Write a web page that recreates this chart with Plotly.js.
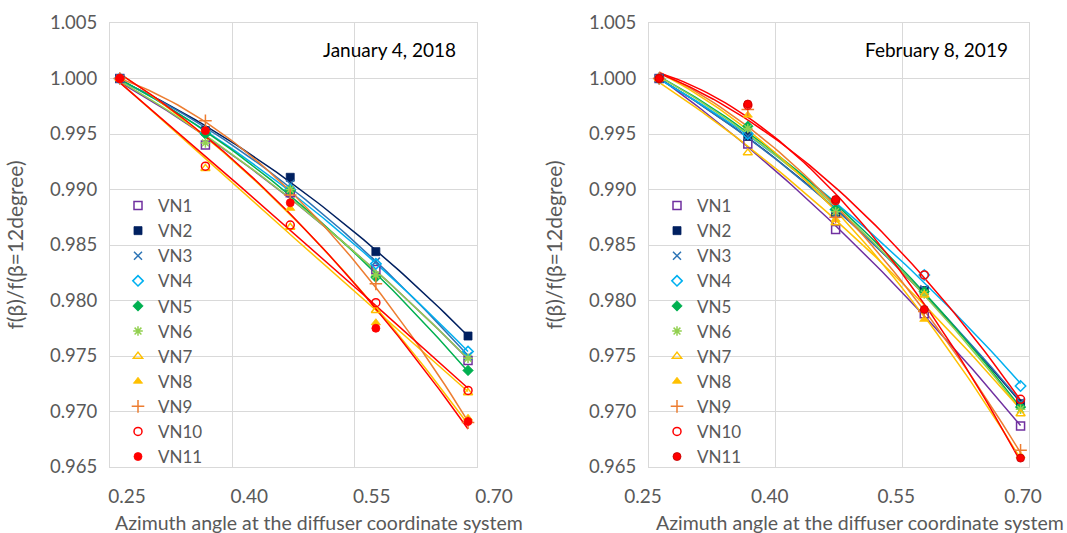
<!DOCTYPE html>
<html>
<head>
<meta charset="utf-8">
<script src="https://cdn.plot.ly/plotly-3.0.1.min.js"></script>
<style>html,body{margin:0;padding:0;background:#fff;}#chart{width:1067px;height:533px;}</style>
</head>
<body>
<div id="chart"></div>
<script>
// ---- data ----
const seriesNames = ['VN1','VN2','VN3','VN4','VN5','VN6','VN7','VN8','VN9','VN10','VN11'];
const xTickVals = [0.25, 0.40, 0.55, 0.70];
const xTickText = ['0.25', '0.40', '0.55', '0.70'];
const yTickVals = [0.965, 0.970, 0.975, 0.980, 0.985, 0.990, 0.995, 1.000, 1.005];
const yTickText = ['0.965','0.970','0.975','0.980','0.985','0.990','0.995','1.000','1.005'];
const panelTitles = ['January 4, 2018', 'February 8, 2019'];
const xTitle = 'Azimuth angle at the diffuser coordinate system';
const yTitle = 'f(β)/f(β=12degree)';

// Panel 1: January 4, 2018
const xJan = [0.262, 0.367, 0.471, 0.576, 0.689];
const janVN1  = [1.000, 0.9940, 0.9897, 0.9828, 0.9746];
const janVN2  = [1.000, 0.9953, 0.9911, 0.9844, 0.9768];
const janVN3  = [1.000, 0.9952, 0.9905, 0.9835, 0.9750];
const janVN4  = [1.000, 0.9951, 0.9900, 0.9833, 0.9754];
const janVN5  = [1.000, 0.9950, 0.9899, 0.9821, 0.9737];
const janVN6  = [1.000, 0.9942, 0.9900, 0.9823, 0.9748];
const janVN7  = [1.000, 0.9919, 0.9866, 0.9791, 0.9717];
const janVN8  = [1.000, 0.9954, 0.9883, 0.9780, 0.9694];
const janVN9  = [1.000, 0.9962, 0.9895, 0.9815, 0.9690];
const janVN10 = [1.000, 0.9921, 0.9868, 0.9798, 0.9719];
const janVN11 = [1.000, 0.9953, 0.9888, 0.9775, 0.9691];

// Panel 2: February 8, 2019
const xFeb = [0.262, 0.367, 0.471, 0.576, 0.690];
const febVN1  = [1.000, 0.9941, 0.9864, 0.9788, 0.9687];
const febVN2  = [1.000, 0.9948, 0.9879, 0.9809, 0.9707];
const febVN3  = [1.000, 0.9948, 0.9878, 0.9810, 0.9708];
const febVN4  = [1.000, 0.9950, 0.9882, 0.9823, 0.9723];
const febVN5  = [1.000, 0.9957, 0.9882, 0.9808, 0.9704];
const febVN6  = [1.000, 0.9955, 0.9880, 0.9806, 0.9702];
const febVN7  = [1.000, 0.9933, 0.9870, 0.9805, 0.9698];
const febVN8  = [1.000, 0.9967, 0.9873, 0.9783, 0.9660];
const febVN9  = [1.000, 0.9972, 0.9875, 0.9790, 0.9665];
const febVN10 = [1.000, 0.9976, 0.9890, 0.9823, 0.9711];
const febVN11 = [1.000, 0.9977, 0.9891, 0.9792, 0.9658];

const janData = [janVN1,janVN2,janVN3,janVN4,janVN5,janVN6,janVN7,janVN8,janVN9,janVN10,janVN11];
const febData = [febVN1,febVN2,febVN3,febVN4,febVN5,febVN6,febVN7,febVN8,febVN9,febVN10,febVN11];

// ---- styles ----
const colors  = ['#7030A0','#002060','#2E75B6','#00B0F0','#00B050','#92D050','#FFC000','#FFC000','#ED7D31','#FF0000','#FF0000'];
const symbols = ['square-open','square','x-thin-open','diamond-open','diamond','asterisk-open','triangle-up-open','triangle-up','cross-thin-open','circle-open','circle'];
const sizes   = [8,8,8,8,8,8,8,8,9,8,8];
const FONT = 'Lato, "Liberation Sans", sans-serif';
const GRAY = '#595959';

// quadratic least-squares trendline (like a spreadsheet order-2 polynomial trendline)
function quadFit(xs, ys) {
  let S = [0,0,0,0,0], T = [0,0,0];
  for (let i = 0; i < xs.length; i++) {
    let p = 1;
    for (let k = 0; k < 5; k++) { S[k] += p; if (k < 3) T[k] += p * ys[i]; p *= xs[i]; }
  }
  const A = [[S[0],S[1],S[2],T[0]],[S[1],S[2],S[3],T[1]],[S[2],S[3],S[4],T[2]]];
  for (let c = 0; c < 3; c++) {
    for (let r = c + 1; r < 3; r++) {
      const f = A[r][c] / A[c][c];
      for (let k = c; k < 4; k++) A[r][k] -= f * A[c][k];
    }
  }
  const b = [0,0,0];
  for (let r = 2; r >= 0; r--) {
    let s = A[r][3];
    for (let k = r + 1; k < 3; k++) s -= A[r][k] * b[k];
    b[r] = s / A[r][r];
  }
  return b;
}

const traces = [];
function addPanel(xs, data, xa, ya, legendId) {
  data.forEach((ys, i) => {
    const b = quadFit(xs, ys);
    const lx = [], ly = [];
    const n = 60, x0 = xs[0], x1 = xs[xs.length - 1];
    for (let j = 0; j <= n; j++) {
      const x = x0 + (x1 - x0) * j / n;
      lx.push(x); ly.push(b[0] + b[1] * x + b[2] * x * x);
    }
    traces.push({x: lx, y: ly, xaxis: xa, yaxis: ya, mode: 'lines', showlegend: false,
      hoverinfo: 'skip', line: {color: colors[i], width: 1.5}});
  });
  data.forEach((ys, i) => {
    traces.push({x: xs, y: ys, xaxis: xa, yaxis: ya, mode: 'markers', name: seriesNames[i],
      legend: legendId,
      marker: {symbol: symbols[i], size: sizes[i], color: colors[i],
        line: {color: (i === 10 && legendId === 'legend2') ? '#C00000' : colors[i], width: (symbols[i].indexOf('open') >= 0) ? 1.5 : 0.8}}});
  });
}
addPanel(xJan, janData, 'x', 'y', 'legend');
addPanel(xFeb, febData, 'x2', 'y2', 'legend2');

const W = 1067, H = 533;
function xaxisDef(d0, d1, anchor, shift) {
  return {domain: [d0 / W, d1 / W], anchor: anchor, range: [0.25, 0.70], tickvals: xTickVals, ticktext: xTickText,
    showgrid: true, gridcolor: '#D9D9D9', gridwidth: 1, zeroline: false, showline: true, linecolor: '#D9D9D9', mirror: true,
    ticks: '', ticklabelstandoff: 12, ticklabelshift: shift, automargin: false,
    tickfont: {family: FONT, size: 19, color: GRAY}};
}
function yaxisDef(anchor) {
  return {domain: [1 - 467 / H, 1 - 23 / H], anchor: anchor, range: [0.965, 1.005], tickvals: yTickVals, ticktext: yTickText,
    showgrid: true, gridcolor: '#D9D9D9', gridwidth: 1, zeroline: false, showline: true, linecolor: '#D9D9D9', mirror: true,
    ticks: '', ticklabelstandoff: 8, automargin: false,
    tickfont: {family: FONT, size: 18.5, color: GRAY},
    title: {text: yTitle, font: {family: FONT, size: 21, color: GRAY}, standoff: 20}};
}
function legendDef(xpx) {
  return {x: xpx / W, y: 1 - 188 / H, xanchor: 'left', yanchor: 'top', bgcolor: 'rgba(0,0,0,0)',
    font: {family: FONT, size: 17, color: GRAY}, itemwidth: 30, tracegroupgap: 0};
}

const layout = {
  width: W, height: H,
  margin: {l: 0, r: 0, t: 0, b: 0},
  paper_bgcolor: '#fff', plot_bgcolor: '#fff',
  showlegend: true,
  font: {family: FONT, color: GRAY},
  xaxis: xaxisDef(110, 477, 'y', 17),
  yaxis: yaxisDef('x'),
  xaxis2: xaxisDef(649, 1029, 'y2', -6),
  yaxis2: yaxisDef('x2'),
  legend: legendDef(118),
  legend2: legendDef(657),
  annotations: [
    {text: panelTitles[0], xref: 'paper', yref: 'paper', x: 458 / W, y: 1 - 50 / H, xanchor: 'right', yanchor: 'middle',
      showarrow: false, font: {family: FONT, size: 19, color: '#000'}},
    {text: panelTitles[1], xref: 'paper', yref: 'paper', x: 1010 / W, y: 1 - 50 / H, xanchor: 'right', yanchor: 'middle',
      showarrow: false, font: {family: FONT, size: 19, color: '#000'}},
    {text: xTitle, xref: 'paper', yref: 'paper', x: 319 / W, y: 1 - 522 / H, xanchor: 'center', yanchor: 'middle',
      showarrow: false, font: {family: FONT, size: 19.5, color: GRAY}},
    {text: xTitle, xref: 'paper', yref: 'paper', x: 860 / W, y: 1 - 522 / H, xanchor: 'center', yanchor: 'middle',
      showarrow: false, font: {family: FONT, size: 19.5, color: GRAY}}
  ]
};

Plotly.newPlot('chart', traces, layout, {displayModeBar: false, staticPlot: true});
</script>
</body>
</html>
